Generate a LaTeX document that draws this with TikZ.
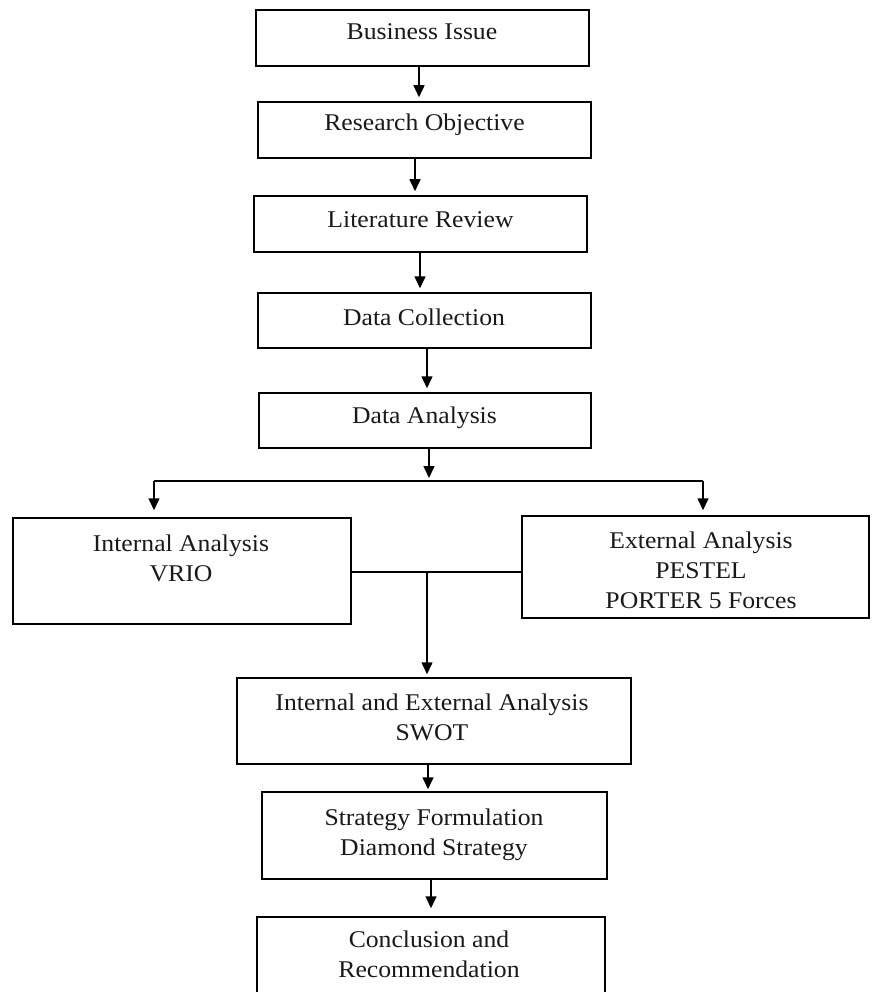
\documentclass[tikz,border=0pt]{standalone}
\usepackage{fontspec}
\setmainfont{Liberation Serif}[FakeStretch=1.07]
\usetikzlibrary{arrows.meta}
\tikzset{
  box/.style={draw=black, line width=1.5pt, rectangle, inner sep=0pt},
  txt/.style={anchor=base, inner sep=0pt, font=\fontsize{24}{30}\selectfont, text=black!90},
  arr/.style={draw=black, line width=1.5pt, -{Triangle[length=12pt,width=11pt]}, shorten >=4pt},
  ln/.style={draw=black, line width=1.5pt}
}
\newcommand{\ml}[1]{\begin{tabular}[t]{@{}c@{}}#1\end{tabular}}
\begin{document}
\begin{tikzpicture}[x=1pt,y=-1pt]
\useasboundingbox (0,0) rectangle (871,992);
\clip (0,0) rectangle (871,992);
% boxes
\node[box, minimum width=333pt, minimum height=56pt] (b1) at (422.5,38) {};
\node[box, minimum width=333pt, minimum height=56pt] (b2) at (424.5,130) {};
\node[box, minimum width=333pt, minimum height=56pt] (b3) at (420.5,224) {};
\node[box, minimum width=333pt, minimum height=55pt] (b4) at (424.5,320.5) {};
\node[box, minimum width=332pt, minimum height=55pt] (b5) at (425,420.5) {};
\node[box, minimum width=338pt, minimum height=106pt] (b6) at (182,571) {};
\node[box, minimum width=347pt, minimum height=102pt] (b7) at (695.5,567) {};
\node[box, minimum width=394pt, minimum height=86pt] (b8) at (434,721) {};
\node[box, minimum width=345pt, minimum height=87pt] (b9) at (434.5,835.5) {};
\node[box, minimum width=348pt, minimum height=83pt] (b10) at (431,958.5) {};
% texts
\node[txt] (t1) at (422,40) {Business Issue};
\node[txt] (t2) at (424.5,131) {Research Objective};
\node[txt] (t3) at (420.5,228) {Literature Review};
\node[txt] (t4) at (424,325) {Data Collection};
\node[txt] (t5) at (424.5,423) {Data Analysis};
\node[txt] (t6) at (181,551) {\ml{Internal Analysis\\VRIO}};
\node[txt] (t7) at (701,548) {\ml{External Analysis\\PESTEL\\PORTER 5 Forces}};
\node[txt] (t8) at (432,710) {\ml{Internal and External Analysis\\SWOT}};
\node[txt] (t9) at (434,825) {\ml{Strategy Formulation\\Diamond Strategy}};
\node[txt] (t10) at (429,947) {\ml{Conclusion and\\Recommendation}};
% connectors
\draw[arr] ([xshift=-3.5pt]b1.south) -- ([xshift=-3.5pt]b1.south |- b2.north);
\draw[arr] ([xshift=-9.5pt]b2.south) -- ([xshift=-9.5pt]b2.south |- b3.north);
\draw[arr] ([xshift=-0.5pt]b3.south) -- ([xshift=-0.5pt]b3.south |- b4.north);
\draw[arr] ([xshift=2.5pt]b4.south) -- ([xshift=2.5pt]b4.south |- b5.north);
\coordinate (sp) at (429,481);
\coordinate (spl) at (154,481);
\coordinate (spr) at (703,481);
\draw[arr, shorten >=3pt] ([xshift=4pt]b5.south) -- (sp);
\draw[ln] (spl) -- (spr);
\draw[arr, shorten >=7pt] (spl) -- (spl |- b6.north);
\draw[arr, shorten >=5pt] (spr) -- (spr |- b7.north);
\coordinate (mj) at (427,572);
\draw[ln] (b6.east |- mj) -- (b7.west |- mj);
\draw[arr, shorten >=3pt] (mj) -- (mj |- b8.north);
\draw[arr, shorten >=2pt] ([xshift=-6pt]b8.south) -- ([xshift=-6pt]b8.south |- b9.north);
\draw[arr, shorten >=8pt] ([xshift=-3.5pt]b9.south) -- ([xshift=-3.5pt]b9.south |- b10.north);
\end{tikzpicture}
\end{document}
